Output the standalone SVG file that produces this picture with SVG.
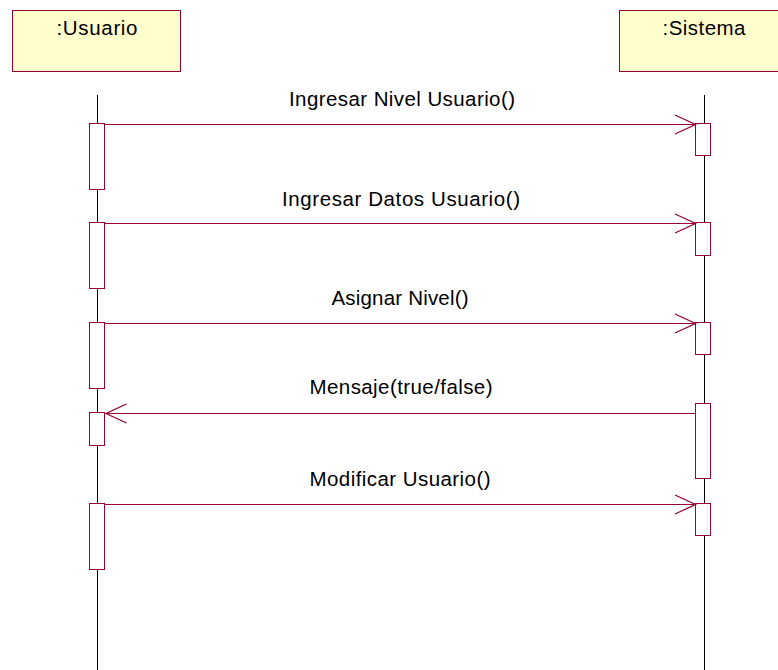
<svg xmlns="http://www.w3.org/2000/svg" width="778" height="670" viewBox="0 0 778 670">
  <style>
    .obj { fill: #FFFFCC; stroke: #990033; stroke-width: 1; }
    .life { stroke: #000000; stroke-width: 1; fill: none; }
    .act { fill: #FFFFFF; stroke: #990033; stroke-width: 1; }
    .msg { stroke: #990033; stroke-width: 1; fill: none; }
    .head { stroke: #990033; stroke-width: 1.3; fill: none; stroke-linejoin: miter; }
    text { font-family: "Liberation Sans", Arial, sans-serif; font-size: 20.5px; fill: #000000; text-anchor: middle; }
  </style>
  <rect width="778" height="670" fill="#FFFFFF"/>

  <!-- lifeline: Usuario -->
  <g id="usuario">
    <rect class="obj" x="12.5" y="10.5" width="168" height="61"/>
    <text x="97" y="35" textLength="81" lengthAdjust="spacing">:Usuario</text>
    <line class="life" x1="97.5" y1="95" x2="97.5" y2="670"/>
    <rect class="act" x="89.5" y="123.5" width="15" height="66"/>
    <rect class="act" x="89.5" y="222.5" width="15" height="66"/>
    <rect class="act" x="89.5" y="322.5" width="15" height="66"/>
    <rect class="act" x="89.5" y="412.5" width="15" height="33"/>
    <rect class="act" x="89.5" y="503.5" width="15" height="66"/>
  </g>

  <!-- lifeline: Sistema -->
  <g id="sistema">
    <rect class="obj" x="619.5" y="10.5" width="170" height="61"/>
    <text x="704" y="35" textLength="83" lengthAdjust="spacing">:Sistema</text>
    <line class="life" x1="704.5" y1="95" x2="704.5" y2="670"/>
    <rect class="act" x="695.5" y="123.5" width="15" height="32"/>
    <rect class="act" x="695.5" y="222.5" width="15" height="33"/>
    <rect class="act" x="695.5" y="322.5" width="15" height="32"/>
    <rect class="act" x="695.5" y="403.5" width="15" height="75"/>
    <rect class="act" x="695.5" y="503.5" width="15" height="32"/>
  </g>

  <!-- messages -->
  <g id="messages">
    <line class="msg" x1="104.5" y1="124.5" x2="695.5" y2="124.5"/>
    <polyline class="head" points="675,115 695.5,124.5 675,134"/>
    <text x="402" y="106" textLength="226" lengthAdjust="spacing">Ingresar Nivel Usuario()</text>

    <line class="msg" x1="104.5" y1="223.5" x2="695.5" y2="223.5"/>
    <polyline class="head" points="675,214 695.5,223.5 675,233"/>
    <text x="401" y="206" textLength="238" lengthAdjust="spacing">Ingresar Datos Usuario()</text>

    <line class="msg" x1="104.5" y1="323.5" x2="695.5" y2="323.5"/>
    <polyline class="head" points="675,314 695.5,323.5 675,333"/>
    <text x="400" y="305" textLength="137" lengthAdjust="spacing">Asignar Nivel()</text>

    <line class="msg" x1="695.5" y1="413.5" x2="106" y2="413.5"/>
    <polyline class="head" points="126.5,404 106,413.5 126.5,423"/>
    <text x="401" y="394" textLength="183" lengthAdjust="spacing">Mensaje(true/false)</text>

    <line class="msg" x1="104.5" y1="504.5" x2="695.5" y2="504.5"/>
    <polyline class="head" points="675,495 695.5,504.5 675,514"/>
    <text x="400" y="486" textLength="181" lengthAdjust="spacing">Modificar Usuario()</text>
  </g>
</svg>
